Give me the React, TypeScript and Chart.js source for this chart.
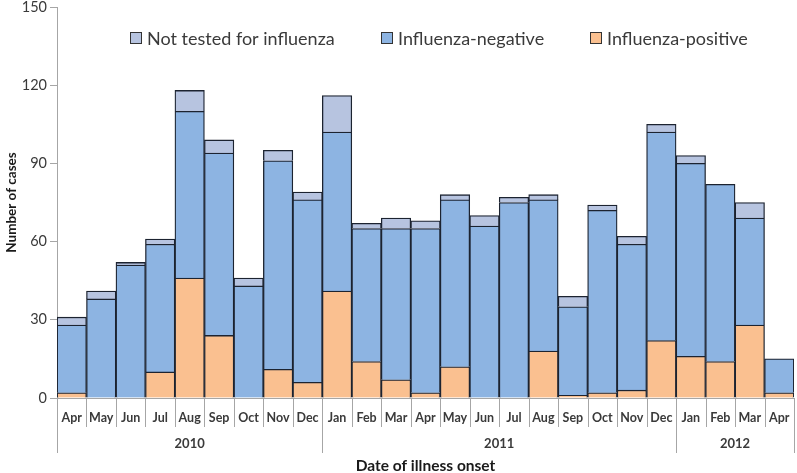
import React, { useEffect, useRef } from "react";
import { Chart, registerables } from "chart.js";

Chart.register(...registerables);

const months = ["Apr","May","Jun","Jul","Aug","Sep","Oct","Nov","Dec","Jan","Feb","Mar","Apr","May","Jun","Jul","Aug","Sep","Oct","Nov","Dec","Jan","Feb","Mar","Apr"];
const yearLabels = ["2010", "2011", "2012"];
const yearStartIndex = [0, 9, 21];
const yearEndIndex = [8, 20, 24];

const positive = [2,0,0,10,46,24,0,11,6,41,14,7,2,12,0,0,18,1,2,3,22,16,14,28,2];
const negative = [26,38,51,49,64,70,43,80,70,61,51,58,63,64,66,75,58,34,70,56,80,74,68,41,13];
const notTested = [3,3,1,2,8,5,3,4,3,14,2,4,3,2,4,2,2,4,2,3,3,3,0,6,0];

const yTicks = [0, 30, 60, 90, 120, 150];

const FONT = "Lato, 'Open Sans', sans-serif";
const COL_POS = "#fac090";
const COL_NEG = "#8db4e2";
const COL_NOT = "#b7c4e0";
const TEXT = "#3a3a3a";
const LINE = "#a6a6a6";

const legendItems = [
  { label: "Not tested for influenza", color: COL_NOT, x: 130 },
  { label: "Influenza-negative", color: COL_NEG, x: 381 },
  { label: "Influenza-positive", color: COL_POS, x: 590 },
];

const overlayPlugin = {
  id: "overlay",
  afterDraw(chart: any) {
    const ctx = chart.ctx;
    const x = chart.scales.x;
    const area = chart.chartArea;
    const axisY = area.bottom;
    const n = months.length;
    const step = x.getPixelForValue(1) - x.getPixelForValue(0);
    const edge = (i: number) => {
      if (i <= 0) return x.getPixelForValue(0) - step / 2;
      if (i >= n) return x.getPixelForValue(n - 1) + step / 2;
      return (x.getPixelForValue(i - 1) + x.getPixelForValue(i)) / 2;
    };
    ctx.save();
    ctx.strokeStyle = LINE;
    ctx.lineWidth = 1;
    const yearBounds = new Set<number>();
    yearStartIndex.forEach((s) => yearBounds.add(s));
    yearBounds.add(n);
    for (let i = 0; i <= n; i++) {
      const px = Math.round(edge(i)) + 0.5;
      const len = yearBounds.has(i) ? 55 : 29;
      ctx.beginPath();
      ctx.moveTo(px, axisY);
      ctx.lineTo(px, axisY + len);
      ctx.stroke();
    }
    ctx.fillStyle = TEXT;
    ctx.font = `bold 12.5px ${FONT}`;
    ctx.textAlign = "center";
    ctx.textBaseline = "middle";
    months.forEach((m, i) => {
      ctx.fillText(m, x.getPixelForValue(i), axisY + 20);
    });
    ctx.font = `bold 13px ${FONT}`;
    yearLabels.forEach((yl, k) => {
      const cx = (edge(yearStartIndex[k]) + edge(yearEndIndex[k] + 1)) / 2;
      ctx.fillText(yl, cx, axisY + 46);
    });
    ctx.fillStyle = "#1a1a1a";
    ctx.font = `bold 15.5px ${FONT}`;
    ctx.fillText("Date of illness onset", (area.left + area.right) / 2, axisY + 68);
    ctx.font = `18px ${FONT}`;
    ctx.textAlign = "left";
    legendItems.forEach((it) => {
      ctx.fillStyle = it.color;
      ctx.fillRect(it.x, 32, 12, 12);
      ctx.strokeStyle = "#333";
      ctx.lineWidth = 1;
      ctx.strokeRect(it.x + 0.5, 32.5, 11, 11);
      ctx.fillStyle = TEXT;
      ctx.fillText(it.label, it.x + 17, 39);
    });
    ctx.restore();
  },
};

export default function App() {
  const ref = useRef<HTMLCanvasElement | null>(null);
  useEffect(() => {
    if (!ref.current) return;
    const ds = (label: string, data: number[], color: string) => ({
      label,
      data,
      backgroundColor: color,
      borderColor: "#1c2330",
      borderWidth: 1.3,
      borderSkipped: "start" as const,
      barPercentage: 1,
      categoryPercentage: 1,
    });
    const chart = new Chart(ref.current, {
      type: "bar",
      data: {
        labels: months,
        datasets: [
          ds("Influenza-positive", positive, COL_POS),
          ds("Influenza-negative", negative, COL_NEG),
          ds("Not tested for influenza", notTested, COL_NOT),
        ],
      },
      options: {
        animation: false,
        responsive: true,
        maintainAspectRatio: false,
        layout: { padding: { top: 7, right: 3, left: 0, bottom: 0 } },
        plugins: { legend: { display: false }, tooltip: { enabled: false } },
        scales: {
          x: {
            stacked: true,
            ticks: { display: false },
            grid: { display: false },
            border: { display: true, color: LINE },
            afterFit: (s: any) => { s.height = 75; s.paddingLeft = 0; s.paddingRight = 0; },
          },
          y: {
            stacked: true,
            min: 0,
            max: 150,
            afterBuildTicks: (s: any) => { s.ticks = yTicks.map((v) => ({ value: v })); },
            ticks: { color: TEXT, font: { size: 14.5, family: FONT }, padding: 3 },
            grid: { display: true, drawOnChartArea: false, tickLength: 7, color: LINE },
            border: { display: true, color: LINE },
            title: {
              display: true,
              text: "Number of cases",
              color: "#1a1a1a",
              font: { size: 13.5, weight: "bold", family: FONT },
              padding: { top: 4, bottom: 0 },
            },
            afterFit: (s: any) => { s.width = 57; s.paddingTop = 0; s.paddingBottom = 0; },
          },
        },
      },
      plugins: [overlayPlugin],
    });
    return () => chart.destroy();
  }, []);
  return (
    <div style={{ position: "fixed", left: 0, top: 0, width: 797, height: 473, background: "#fff" }}>
      <canvas ref={ref} />
    </div>
  );
}
